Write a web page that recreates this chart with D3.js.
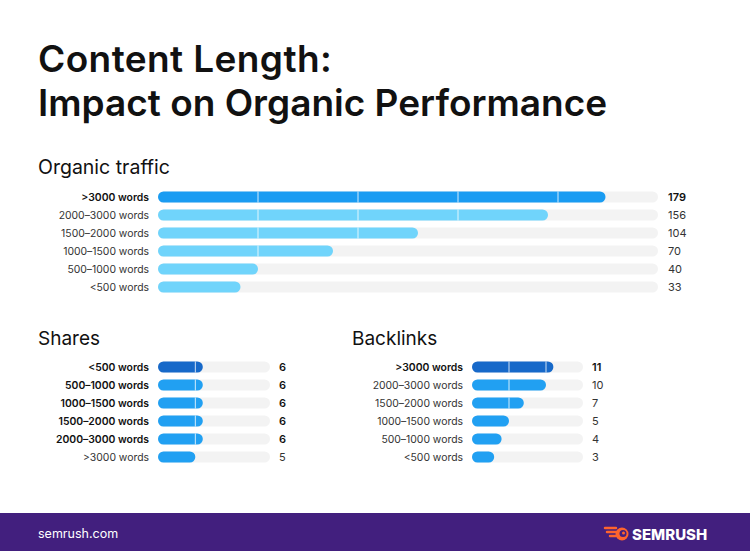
<!DOCTYPE html>
<html>
<head>
<meta charset="utf-8">
<script src="https://cdn.jsdelivr.net/npm/d3@7"></script>
<style>
  html, body { margin: 0; padding: 0; background: #fff; }
  svg { display: block; font-family: Inter, "Noto Sans", sans-serif; }
</style>
</head>
<body>
<div id="chart"></div>
<script>
// Data
const trafficCats = ['>3000 words', '2000–3000 words', '1500–2000 words', '1000–1500 words', '500–1000 words', '<500 words'];
const trafficVals = [179, 156, 104, 70, 40, 33];
const trafficBold = [true, false, false, false, false, false];

const sharesCats = ['<500 words', '500–1000 words', '1000–1500 words', '1500–2000 words', '2000–3000 words', '>3000 words'];
const sharesVals = [6, 6, 6, 6, 6, 5];
const sharesBold = [true, true, true, true, true, false];

const backlinkCats = ['>3000 words', '2000–3000 words', '1500–2000 words', '1000–1500 words', '500–1000 words', '<500 words'];
const backlinkVals = [11, 10, 7, 5, 4, 3];
const backlinkBold = [true, false, false, false, false, false];

const width = 750;
const height = 551;

const svg = d3.select('#chart')
  .append('svg')
  .attr('width', width)
  .attr('height', height);

// Title
svg.append('text')
  .attr('x', 38).attr('y', 72)
  .attr('font-size', 37).attr('font-weight', 600)
  .attr('letter-spacing', 0.4)
  .attr('fill', '#111')
  .text('Content Length:');
svg.append('text')
  .attr('x', 38).attr('y', 116)
  .attr('font-size', 37).attr('font-weight', 600)
  .attr('fill', '#111')
  .text('Impact on Organic Performance');

// Draws one panel of bars
function barPanel(opts) {
  const g = svg.append('g');
  const x = d3.scaleLinear().domain(opts.domain).range([opts.x0, opts.x1]);
  const y = d3.scaleBand().domain(opts.cats).range([opts.y0, opts.y0 + opts.cats.length * 18]);
  const bh = 11;

  g.append('text')
    .attr('x', opts.titleX).attr('y', opts.titleY)
    .attr('font-size', opts.titleSize).attr('fill', '#111')
    .text(opts.title);

  const rows = g.selectAll('g.row')
    .data(opts.cats.map((c, i) => ({ cat: c, val: opts.vals[i], i: i })))
    .join('g')
    .attr('class', 'row');

  // track
  rows.append('rect')
    .attr('x', x(opts.domain[0]))
    .attr('y', d => y(d.cat) + (y.bandwidth() - bh) / 2)
    .attr('width', x(opts.domain[1]) - x(opts.domain[0]))
    .attr('height', bh)
    .attr('rx', bh / 2)
    .attr('fill', '#f3f3f3');

  // bar
  rows.append('rect')
    .attr('x', x(0))
    .attr('y', d => y(d.cat) + (y.bandwidth() - bh) / 2)
    .attr('width', d => x(d.val) - x(0))
    .attr('height', bh)
    .attr('rx', bh / 2)
    .attr('fill', d => opts.color(d.i));

  // white grid lines on bars
  const gl = g.append('g');
  opts.gridVals.forEach(v => {
    rows.filter(d => d.val > v + 0.5).each(function (d) {
      gl.append('line')
        .attr('x1', x(v)).attr('x2', x(v))
        .attr('y1', y(d.cat) + (y.bandwidth() - bh) / 2)
        .attr('y2', y(d.cat) + (y.bandwidth() + bh) / 2)
        .attr('stroke', '#fff')
        .attr('stroke-opacity', 0.8)
        .attr('stroke-width', 1);
    });
  });

  // labels
  rows.append('text')
    .attr('x', opts.labelX)
    .attr('y', d => y(d.cat) + y.bandwidth() / 2)
    .attr('dy', '0.35em')
    .attr('text-anchor', 'end')
    .attr('font-size', 10.4)
    .attr('font-weight', d => opts.bold[d.i] ? 600 : 400)
    .attr('fill', d => opts.bold[d.i] ? '#111' : '#333')
    .text(d => d.cat);

  // values
  rows.append('text')
    .attr('x', opts.valueX)
    .attr('y', d => y(d.cat) + y.bandwidth() / 2)
    .attr('dy', '0.35em')
    .attr('font-size', 11)
    .attr('font-weight', d => opts.bold[d.i] ? 600 : 400)
    .attr('fill', d => opts.bold[d.i] ? '#111' : '#333')
    .text(d => d.val);
}

barPanel({
  title: 'Organic traffic', titleX: 38, titleY: 174, titleSize: 19.5,
  cats: trafficCats, vals: trafficVals, bold: trafficBold,
  domain: [0, 200], x0: 158, x1: 658, y0: 188,
  gridVals: [40, 80, 120, 160],
  labelX: 149, valueX: 668,
  color: i => i === 0 ? '#1a9cf2' : '#70d4fb'
});

barPanel({
  title: 'Shares', titleX: 38, titleY: 345, titleSize: 19,
  cats: sharesCats, vals: sharesVals, bold: sharesBold,
  domain: [0, 15], x0: 158, x1: 270, y0: 358,
  gridVals: [5, 10],
  labelX: 149, valueX: 279,
  color: i => i === 0 ? '#1769c9' : '#21a0f2'
});

barPanel({
  title: 'Backlinks', titleX: 352, titleY: 345, titleSize: 19,
  cats: backlinkCats, vals: backlinkVals, bold: backlinkBold,
  domain: [0, 15], x0: 472, x1: 583, y0: 358,
  gridVals: [5, 10],
  labelX: 463, valueX: 592,
  color: i => i === 0 ? '#1769c9' : '#21a0f2'
});

// Footer
svg.append('rect')
  .attr('x', 0).attr('y', 513)
  .attr('width', width).attr('height', height - 513)
  .attr('fill', '#421f7e');
svg.append('text')
  .attr('x', 38).attr('y', 538)
  .attr('font-size', 12.5).attr('fill', '#fff')
  .text('semrush.com');

// Logo
const logo = svg.append('g').attr('transform', 'translate(620,534)');
logo.append('path')
  .attr('d', 'M-15,-6 L-4,-6 M-13,-2 L-3,-2 M-10,2 L-3,2')
  .attr('stroke', '#ff642d').attr('stroke-width', 2.5).attr('stroke-linecap', 'round');
logo.append('circle').attr('cx', 2).attr('cy', 0).attr('r', 6.5).attr('fill', '#ff642d');
logo.append('circle').attr('cx', 3).attr('cy', -0.5).attr('r', 3.5).attr('fill', '#421f7e');
logo.append('circle').attr('cx', 3.5).attr('cy', -1).attr('r', 1.5).attr('fill', '#ff642d');
logo.append('text')
  .attr('x', 12).attr('y', 5.5)
  .attr('font-size', 15).attr('font-weight', 800)
  .attr('fill', '#fff')
  .text('SEMRUSH');
</script>
</body>
</html>
